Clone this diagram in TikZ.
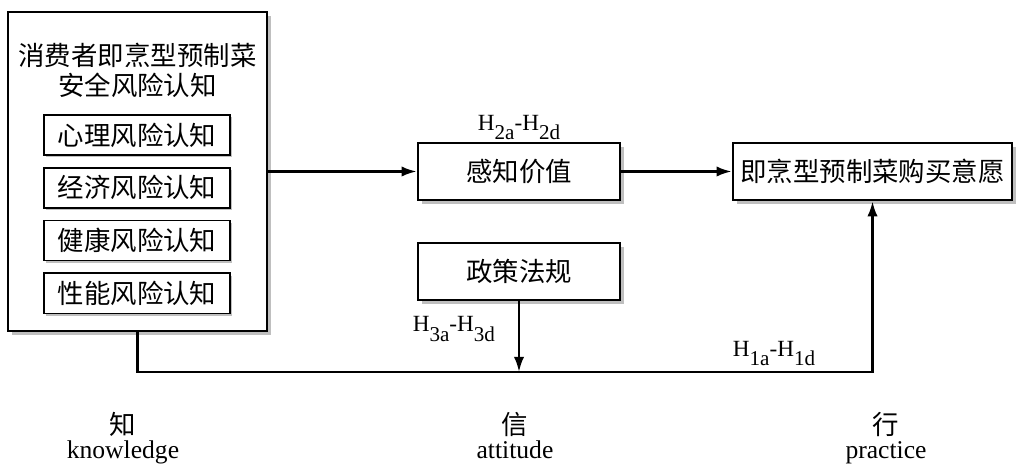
\documentclass[tikz,border=0pt]{standalone}
\usepackage{fontspec}
\setmainfont{Liberation Serif}
\newfontfamily\cjk{Noto Sans CJK SC}
\usetikzlibrary{positioning}
\usetikzlibrary{arrows.meta}
\usetikzlibrary{shadows}
\newcommand{\hsub}[1]{\raisebox{-6.5pt}{\fontsize{15}{15}\selectfont #1}}

\begin{document}
\begin{tikzpicture}[x=0.025cm, y=-0.025cm,
        zh/.style={font=\cjk\fontsize{18.8}{21.3}\selectfont},
        en/.style={font=\fontsize{16.5}{19}\selectfont},
        ee/.style={font=\fontsize{18.2}{21}\selectfont},
        box/.style={zh, draw, line width=1.8pt, fill=white, inner xsep=1pt,
            drop shadow={shadow xshift=0.09cm, shadow yshift=-0.09cm, fill=black!25, opacity=1},
            minimum width=5.05cm, minimum height=1.425cm},
        subbox/.style={zh, draw, line width=1.1pt, fill=white,
            drop shadow={shadow xshift=0.06cm, shadow yshift=-0.06cm, fill=black!25, opacity=1},
            minimum width=4.65cm, minimum height=1cm},
        arr/.style={line width=1.8pt, -{Latex[length=0.38cm, width=0.26cm]}}]
        \useasboundingbox (0,0) rectangle (1020,471);

        \node(risk) [box, minimum width=6.475cm, minimum height=7.975cm] at (137.5,171.5) {};
        \node(title) [zh, align=center] at (137.5,70) {消费者即烹型预制菜\\安全风险认知};
        \node(r1) [subbox] at (137,135) {心理风险认知};
        \node(r2) [subbox, below=0.28cm of r1] {经济风险认知};
        \node(r3) [subbox, below=0.28cm of r2] {健康风险认知};
        \node(r4) [subbox, below=0.28cm of r3] {性能风险认知};

        \node(value) [box] at (519,171.5) {感知价值};
        \node(law) [box] at (519,271.5) {政策法规};
        \node(buy) [box, minimum width=6.975cm] at (872.5,171.5) {即烹型预制菜购买意愿};

        \node(h2) [en, inner sep=1pt, above=0pt of value] {H\hsub{2a}-H\hsub{2d}};
        \node(h3) [en, anchor=base east] at (500,332) {H\hsub{3a}-H\hsub{3d}};

        \coordinate(bl) at (137.5,372);
        \coordinate(br) at (872.5,372);

        \draw[arr] (risk.east) -- (value.west);
        \draw[arr] (value.east) -- (buy.west);
        \draw[arr] (law.south) -- (law.south |- bl);
        \draw[arr] (risk.south) -- (bl) -- node[en, above, pos=0.866] (h1) {H\hsub{1a}-H\hsub{1d}} (br) -- (buy.south);

        \node(k1) [zh] at (123,424) {知};
        \node(k2) [ee, anchor=base] at (123,459) {knowledge};
        \node(a1) [zh] at (515,424) {信};
        \node(a2) [ee, anchor=base] at (515,459) {attitude};
        \node(p1) [zh] at (886,424) {行};
        \node(p2) [ee, anchor=base] at (886,459) {practice};
    \end{tikzpicture}
\end{document}
